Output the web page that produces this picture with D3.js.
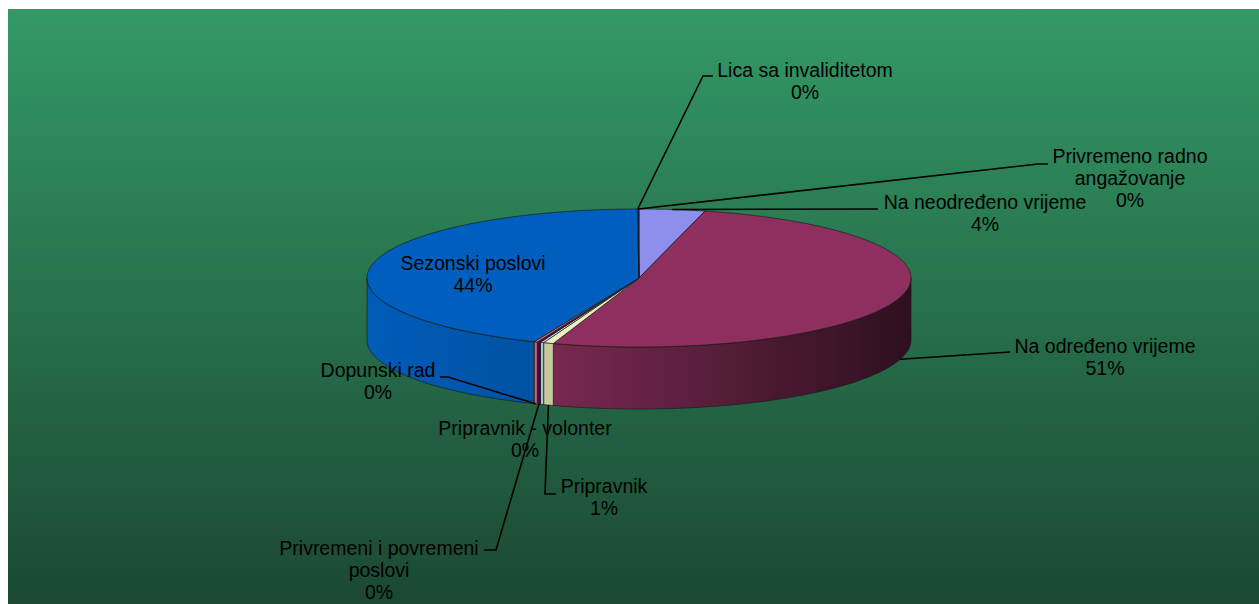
<!DOCTYPE html>
<html>
<head>
<meta charset="utf-8">
<script src="https://cdn.jsdelivr.net/npm/d3@7"></script>
<style>
  body { margin: 0; background: #fff; }
  svg { display: block; font-family: "Liberation Sans", Arial, sans-serif; }
</style>
</head>
<body>
<div id="chart"></div>
<script>
// categories, values (share of employment type, %), slice colours
const categories = [
  "Na neodređeno vrijeme",
  "Na određeno vrijeme",
  "Pripravnik",
  "Pripravnik - volonter",
  "Privremeni i povremeni poslovi",
  "Dopunski rad",
  "Sezonski poslovi",
  "Lica sa invaliditetom",
  "Privremeno radno angažovanje"
];
const values = [3.9, 51.2, 0.6, 0.2, 0.2, 0.2, 43.6, 0.05, 0.05];
const colors = ["#9999FF", "#993366", "#FFFFCC", "#CCFFFF", "#660066", "#FF8080", "#0066CC", "#CCCCFF", "#000080"];

// label text lines (category name split as in the chart)
const labelLines = [
  ["Na neodređeno vrijeme"],
  ["Na određeno vrijeme"],
  ["Pripravnik"],
  ["Pripravnik - volonter"],
  ["Privremeni i povremeni", "poslovi"],
  ["Dopunski rad"],
  ["Sezonski poslovi"],
  ["Lica sa invaliditetom"],
  ["Privremeno radno", "angažovanje"]
];

// label layout: text centre / first baseline, leader elbow + end (null = no leader)
const labelLayout = [
  { x: 985,  y: 209, leader: [[878, 209]] },
  { x: 1105, y: 353, leader: [[1010, 352]] },
  { x: 604,  y: 493, leader: [[545, 494], [556, 494]] },
  { x: 525,  y: 435, leader: null },
  { x: 379,  y: 555, leader: [[496, 550], [484, 550]] },
  { x: 378,  y: 377, leader: [[448, 377], [440, 377]] },
  { x: 473,  y: 270, leader: null },
  { x: 805,  y: 77,  leader: [[703, 76], [713, 76]] },
  { x: 1130, y: 163, leader: [[1038, 164], [1048, 164]] }
];

const W = 1259, H = 604;
const cx = 639, cy = 278, rx = 272, ry = 69, depth = 62;
const lineH = 22;

const data = categories.map((c, i) => ({ name: c, value: values[i], color: colors[i], lines: labelLines[i], layout: labelLayout[i] }));
const total = d3.sum(values);
const pct = v => Math.round(v / total * 100) + "%";

const svg = d3.select("#chart").append("svg")
  .attr("width", W)
  .attr("height", H);

const defs = svg.append("defs");

const bg = defs.append("linearGradient")
  .attr("id", "bg")
  .attr("x1", 0).attr("y1", 0).attr("x2", 0).attr("y2", 1);
bg.append("stop").attr("offset", 0).attr("stop-color", "#339966");
bg.append("stop").attr("offset", 1).attr("stop-color", "#1b4832");

svg.append("rect")
  .attr("x", 8).attr("y", 9)
  .attr("width", W - 8).attr("height", H - 9)
  .attr("fill", "url(#bg)");

const shade = (c, k) => { const r = d3.rgb(c); return d3.rgb(r.r * k, r.g * k, r.b * k).toString(); };

// side shading: lighter on the left, dark towards the right edge
data.forEach((d, i) => {
  const g = defs.append("linearGradient")
    .attr("id", "side" + i)
    .attr("gradientUnits", "userSpaceOnUse")
    .attr("x1", cx - rx).attr("y1", 0)
    .attr("x2", cx + rx).attr("y2", 0);
  [[0, 0.9], [0.35, 0.78], [0.72, 0.5], [1, 0.3]].forEach(s => {
    g.append("stop").attr("offset", s[0]).attr("stop-color", shade(d.color, s[1]));
  });
});

const arcs = d3.pie().sort(null).value(d => d.value)(data);

const px = a => cx + rx * Math.sin(a);
const py = (a, dz) => cy - ry * Math.cos(a) + (dz || 0);

function ellipsePoints(a0, a1, dz) {
  const n = Math.max(2, Math.ceil(Math.abs(a1 - a0) / (Math.PI / 360)));
  return d3.range(n + 1).map(k => {
    const a = a0 + (a1 - a0) * k / n;
    return [px(a), py(a, dz)];
  });
}

function topPath(d) {
  const pts = [[cx, cy]].concat(ellipsePoints(d.startAngle, d.endAngle, 0));
  return "M" + pts.map(p => p.join(",")).join("L") + "Z";
}

function sidePath(d) {
  const a0 = Math.max(d.startAngle, Math.PI / 2);
  const a1 = Math.min(d.endAngle, Math.PI * 1.5);
  if (a1 <= a0) return null;
  const pts = ellipsePoints(a0, a1, 0).concat(ellipsePoints(a1, a0, depth));
  return "M" + pts.map(p => p.join(",")).join("L") + "Z";
}

const pieG = svg.append("g");

pieG.selectAll(".side")
  .data(arcs.filter(d => sidePath(d)))
  .enter()
  .append("path")
  .attr("class", "side")
  .attr("d", sidePath)
  .attr("fill", d => "url(#side" + d.index + ")")
  .attr("stroke", "#1a1a1a")
  .attr("stroke-opacity", 0.75)
  .attr("stroke-width", 0.9)
  .attr("stroke-linejoin", "round");

pieG.selectAll(".top")
  .data(arcs)
  .enter()
  .append("path")
  .attr("class", "top")
  .attr("d", topPath)
  .attr("fill", d => shade(d.data.color, 0.93))
  .attr("stroke", "#1a1a1a")
  .attr("stroke-opacity", 0.75)
  .attr("stroke-width", 0.9)
  .attr("stroke-linejoin", "round");

// labels
const labG = svg.append("g")
  .attr("font-size", "19.5px")
  .attr("fill", "#000")
  .attr("text-anchor", "middle");

arcs.forEach(d => {
  const L = d.data.layout;
  const t = labG.append("text").attr("x", L.x).attr("y", L.y);
  d.data.lines.concat([pct(d.data.value)]).forEach((s, k) => {
    t.append("tspan").attr("x", L.x).attr("y", L.y + k * lineH).text(s);
  });
});

// leader lines, anchored on the slice (bottom rim for front slices, top face otherwise)
const leaderG = svg.append("g")
  .attr("fill", "none")
  .attr("stroke", "#000")
  .attr("stroke-width", 1.6);

arcs.forEach(d => {
  const L = d.data.layout;
  if (!L.leader) return;
  const mid = (d.startAngle + d.endAngle) / 2;
  const front = mid > Math.PI / 2 && mid < Math.PI * 1.5;
  const anchor = [px(mid), py(mid, front ? depth : 0)];
  leaderG.append("path")
    .attr("d", d3.line()([anchor].concat(L.leader)));
});
</script>
</body>
</html>
